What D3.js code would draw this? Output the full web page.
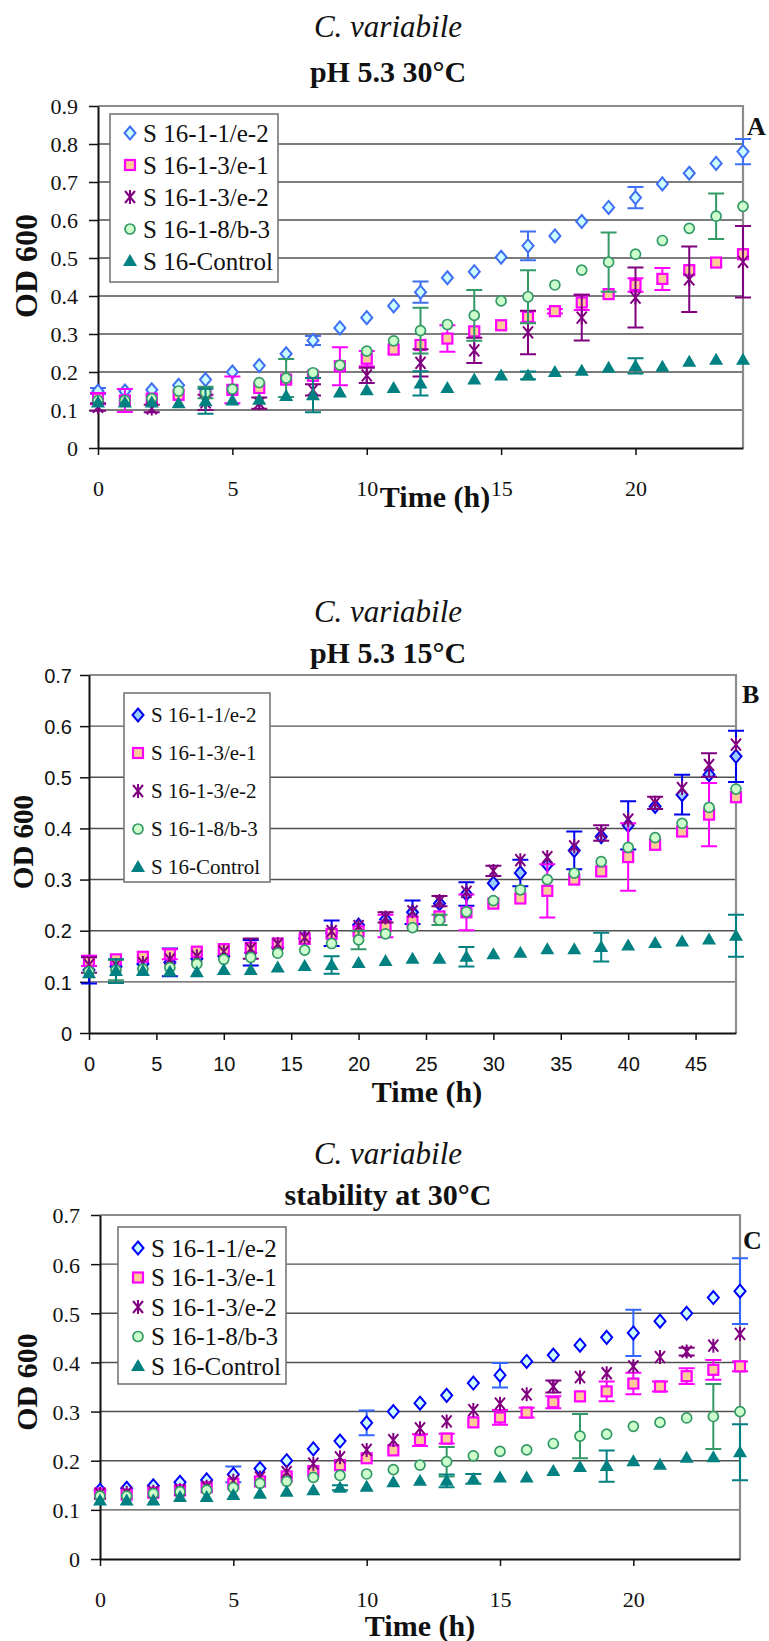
<!DOCTYPE html>
<html>
<head>
<meta charset="utf-8">
<script src="https://cdn.jsdelivr.net/npm/d3@7/dist/d3.min.js"></script>
<style>
  body { margin: 0; background: #fff; }
  svg { display: block; }
</style>
</head>
<body>
<svg id="chart" width="769" height="1641"></svg>
<script>
// ---------- data ----------
const seriesNames = ["S 16-1-1/e-2", "S 16-1-3/e-1", "S 16-1-3/e-2", "S 16-1-8/b-3", "S 16-Control"];

// Panel A: pH 5.3, 30 °C (hourly; S 16-1-3/e-2 every 2 h)
const timeA = [0,1,2,3,4,5,6,7,8,9,10,11,12,13,14,15,16,17,18,19,20,21,22,23,24];
const timeA2 = [0,2,4,6,8,10,12,14,16,18,20,22,24];
const odA_e2 = [0.15,0.15,0.153,0.165,0.18,0.20,0.217,0.248,0.283,0.316,0.343,0.374,0.41,0.448,0.464,0.502,0.532,0.558,0.596,0.633,0.659,0.695,0.723,0.749,0.78];
const sdA_e2 = [0.008,null,null,null,null,null,null,null,0.012,null,null,null,0.028,null,null,null,0.038,null,null,null,0.028,null,null,null,0.033];
const odA_e1 = [0.13,0.125,0.13,0.14,0.145,0.153,0.158,0.18,0.19,0.215,0.235,0.259,0.271,0.288,0.307,0.323,0.345,0.36,0.383,0.405,0.429,0.445,0.468,0.488,0.51];
const sdA_e1 = [0.015,0.03,null,null,null,0.035,null,null,null,0.05,0.02,null,null,0.035,null,null,0.015,0.006,0.02,null,0.018,0.029,null,null,null];
const odA_e2b = [0.108,0.104,0.12,0.118,0.153,0.191,0.224,0.257,0.304,0.343,0.396,0.444,0.49];
const sdA_e2b = [0.01,0.01,0.02,0.015,0.015,0.02,0.036,0.033,0.057,0.06,0.079,0.086,0.094];
const odA_b3 = [0.125,0.125,0.13,0.15,0.146,0.155,0.172,0.184,0.198,0.218,0.255,0.282,0.309,0.325,0.349,0.387,0.398,0.429,0.468,0.489,0.51,0.546,0.578,0.61,0.636];
const sdA_b3 = [null,null,null,null,0.015,null,null,0.05,null,null,null,null,0.06,null,0.067,null,0.07,null,null,0.078,null,null,null,0.06,null];
const odA_ctl = [0.12,0.12,0.12,0.118,0.123,0.125,0.127,0.137,0.139,0.146,0.152,0.158,0.17,0.158,0.18,0.191,0.191,0.2,0.203,0.211,0.216,0.214,0.227,0.232,0.232];
const sdA_ctl = [null,null,null,null,0.033,null,null,null,0.045,null,null,null,0.032,null,null,null,0.01,null,null,null,0.02,null,null,null,null];

// Panel B: pH 5.3, 15 °C (every 2 h)
const timeB = [0,2,4,6,8,10,12,14,16,18,20,22,24,26,28,30,32,34,36,38,40,42,44,46,48];
const odB_e2 = [0.123,0.13,0.135,0.138,0.145,0.15,0.157,0.167,0.185,0.195,0.211,0.222,0.236,0.253,0.272,0.293,0.313,0.329,0.357,0.384,0.406,0.443,0.466,0.505,0.541];
const sdB_e2 = [0.026,null,null,0.027,null,null,0.025,null,null,0.025,null,null,0.023,null,0.023,null,0.026,null,0.037,null,0.047,null,0.039,null,0.05];
const odB_e1 = [0.141,0.144,0.149,0.154,0.159,0.164,0.167,0.175,0.184,0.194,0.199,0.209,0.218,0.228,0.236,0.253,0.263,0.278,0.30,0.316,0.344,0.368,0.394,0.427,0.461];
const sdB_e1 = [0.01,null,null,0.01,null,null,null,null,null,null,null,0.022,null,null,0.035,null,null,0.052,null,null,0.066,null,null,0.062,null];
const odB_e2b = [0.133,0.133,0.137,0.144,0.15,0.159,0.165,0.174,0.187,0.199,0.209,0.226,0.238,0.258,0.276,0.317,0.338,0.344,0.365,0.391,0.417,0.45,0.479,0.524,0.564];
const sdB_e2b = [0.015,null,null,null,null,null,0.02,null,null,null,null,0.01,null,0.01,null,0.01,null,null,null,0.015,null,0.012,null,0.023,null];
const odB_b3 = [0.12,0.123,0.125,0.128,0.135,0.144,0.148,0.156,0.162,0.175,0.182,0.194,0.206,0.221,0.237,0.259,0.28,0.30,0.3125,0.335,0.363,0.382,0.41,0.441,0.477];
const sdB_b3 = [null,0.02,null,null,null,null,null,null,null,null,0.018,null,null,0.01,null,null,null,null,null,null,null,null,null,null,null];
const odB_ctl = [0.117,0.121,0.121,0.12,0.119,0.123,0.123,0.128,0.131,0.133,0.137,0.141,0.145,0.145,0.149,0.154,0.157,0.164,0.164,0.168,0.171,0.176,0.179,0.183,0.19];
const sdB_ctl = [null,0.023,null,null,null,null,null,null,null,0.017,null,null,null,null,0.019,null,null,null,null,0.028,null,null,null,null,0.041];

// Panel C: stability at 30 °C (hourly)
const timeC = [0,1,2,3,4,5,6,7,8,9,10,11,12,13,14,15,16,17,18,19,20,21,22,23,24];
const odC_e2 = [0.14,0.144,0.149,0.156,0.161,0.172,0.184,0.2,0.224,0.24,0.277,0.3,0.317,0.333,0.358,0.374,0.402,0.415,0.435,0.451,0.46,0.484,0.5,0.532,0.545];
const sdC_e2 = [null,null,null,null,null,0.016,null,null,null,null,0.025,null,null,null,null,0.025,null,null,null,null,0.047,null,null,null,0.067];
const odC_e1 = [0.133,0.131,0.135,0.14,0.146,0.153,0.158,0.168,0.179,0.191,0.205,0.221,0.242,0.245,0.278,0.288,0.298,0.319,0.331,0.341,0.357,0.351,0.372,0.385,0.392];
const sdC_e1 = [null,null,null,null,null,null,null,null,null,null,null,null,0.012,0.01,null,0.015,0.01,0.012,null,0.02,0.022,0.01,0.016,0.02,0.01];
const odC_e2b = [0.133,0.135,0.137,0.14,0.147,0.159,0.166,0.177,0.194,0.207,0.222,0.242,0.266,0.28,0.303,0.316,0.335,0.351,0.37,0.378,0.392,0.411,0.422,0.434,0.458];
const sdC_e2b = [null,null,null,null,null,null,null,null,null,null,null,null,null,null,null,null,null,0.012,null,null,null,null,0.008,null,null];
const odC_b3 = [0.128,0.128,0.133,0.137,0.14,0.145,0.154,0.158,0.166,0.17,0.173,0.182,0.191,0.198,0.21,0.219,0.222,0.235,0.25,0.254,0.27,0.278,0.287,0.29,0.30];
const sdC_b3 = [null,null,null,null,null,null,null,null,null,null,null,null,null,0.03,null,null,null,null,0.045,null,null,null,null,0.066,null];
const odC_ctl = [0.119,0.119,0.119,0.126,0.126,0.13,0.133,0.137,0.14,0.145,0.147,0.156,0.159,0.159,0.163,0.166,0.166,0.179,0.187,0.189,0.199,0.192,0.206,0.207,0.217];
const sdC_ctl = [null,null,null,null,null,null,null,null,null,0.005,null,null,null,0.013,0.01,null,null,null,null,0.032,null,null,null,null,0.057];

// axis ticks
const yTicksA = [0,0.1,0.2,0.3,0.4,0.5,0.6,0.7,0.8,0.9];
const yTicks7 = [0,0.1,0.2,0.3,0.4,0.5,0.6,0.7];
const xTicks24 = [0,5,10,15,20];
const xTicks48 = [0,5,10,15,20,25,30,35,40,45];

// ---------- drawing ----------
const svg = d3.select("#chart");
const SERIF = '"Liberation Serif", "DejaVu Serif", serif';
const SANS = '"Liberation Sans", Arial, sans-serif';

function marker(g, kind, cx, cy, st) {
  if (kind === "diamond") {
    const w = 5.5, h = 6.5;
    g.append("path").attr("d", `M${cx},${cy - h}L${cx + w},${cy}L${cx},${cy + h}L${cx - w},${cy}Z`)
      .attr("fill", st.fill).attr("stroke", st.stroke).attr("stroke-width", 2);
  } else if (kind === "square") {
    const a = 5;
    g.append("rect").attr("x", cx - a).attr("y", cy - a).attr("width", 2 * a).attr("height", 2 * a)
      .attr("fill", st.fill).attr("stroke", st.stroke).attr("stroke-width", 2.2);
  } else if (kind === "star") {
    const a = 5, b = 6;
    g.append("path").attr("d", `M${cx - a},${cy - b}L${cx + a},${cy + b}M${cx + a},${cy - b}L${cx - a},${cy + b}M${cx},${cy - b - 1}L${cx},${cy + b + 1}`)
      .attr("fill", "none").attr("stroke", st.stroke).attr("stroke-width", 2);
  } else if (kind === "circle") {
    g.append("circle").attr("cx", cx).attr("cy", cy).attr("r", 5)
      .attr("fill", st.fill).attr("stroke", st.stroke).attr("stroke-width", 1.7);
  } else if (kind === "triangle") {
    g.append("path").attr("d", `M${cx},${cy - 7}L${cx + 7},${cy + 5}L${cx - 7},${cy + 5}Z`)
      .attr("fill", st.fill).attr("stroke", "none");
  }
}

function fmtY(v) { return v === 0 ? "0" : v.toFixed(1); }

function label(g, x, y, txt, font, size, opts = {}) {
  const t = g.append("text").attr("x", x).attr("y", y).text(txt)
    .style("font-family", font).style("font-size", size + "px").attr("fill", "#111");
  if (opts.anchor) t.attr("text-anchor", opts.anchor);
  if (opts.bold) t.style("font-weight", "bold");
  if (opts.italic) t.style("font-style", "italic");
  if (opts.dy) t.attr("dy", opts.dy);
  return t;
}

function drawChart(c) {
  const x = d3.scaleLinear().domain(c.xDomain).range([c.left, c.right]);
  const y = d3.scaleLinear().domain(c.yDomain).range([c.bottom, c.top]);
  const g = svg.append("g");

  // titles
  label(g, 388, c.title1Y, "C. variabile", SERIF, 31, {anchor: "middle", italic: true});
  label(g, 388, c.title2Y, c.title2, SERIF, 30, {anchor: "middle", bold: true});

  // horizontal gridlines
  g.selectAll("line.grid").data(c.yTicks.filter(v => v > 0 && v < c.yDomain[1])).join("line")
    .attr("x1", c.left).attr("x2", c.right)
    .attr("y1", d => y(d)).attr("y2", d => y(d))
    .attr("stroke", "#505050").attr("stroke-width", 1.4);

  // plot-area frame (top and right)
  g.append("path").attr("d", `M${c.left},${y(c.yDomain[1])}H${c.right}V${c.bottom}`)
    .attr("fill", "none").attr("stroke", "#8c8c8c").attr("stroke-width", 2.2);

  // y axis
  const ya = g.append("g").attr("transform", `translate(${c.left},0)`)
    .call(d3.axisLeft(y).tickValues(c.yTicks).tickSize(9).tickSizeOuter(0).tickFormat(fmtY));
  ya.attr("font-family", null).attr("font-size", null);
  ya.select(".domain").attr("stroke", "#111").attr("stroke-width", 2);
  ya.selectAll(".tick line").attr("stroke", "#111").attr("stroke-width", 1.5);
  ya.selectAll(".tick text").attr("x", -(c.left - c.yLabelRight)).attr("dy", "0.36em")
    .style("font-family", c.tickFont).style("font-size", c.tickSize + "px").attr("fill", "#111");

  // x axis
  const xa = g.append("g").attr("transform", `translate(0,${c.bottom})`)
    .call(d3.axisBottom(x).tickValues(c.xTicks).tickSize(7).tickSizeOuter(0));
  xa.attr("font-family", null).attr("font-size", null);
  xa.select(".domain").attr("stroke", "#111").attr("stroke-width", 2);
  xa.selectAll(".tick line").attr("stroke", "#111").attr("stroke-width", 1.5);
  xa.selectAll(".tick text").attr("y", c.xLabelBase - c.bottom).attr("dy", 0)
    .style("font-family", c.tickFont).style("font-size", c.tickSize + "px").attr("fill", "#111");

  // axis titles
  label(g, c.timeX, c.timeY, "Time (h)", SERIF, c.timeSize, {anchor: "middle", bold: true});
  label(g, 0, 0, "OD 600", SERIF, c.odSize, {anchor: "middle", bold: true, dy: "0.35em"})
    .attr("transform", `translate(${c.odX},${c.odY}) rotate(-90)`);

  // panel letter
  label(g, c.tagX, c.tagY, c.tag, SERIF, 26, {bold: true});

  // series: error bars, then markers
  c.series.forEach(s => {
    const sg = g.append("g");
    s.t.forEach((t, i) => {
      const e = s.sd[i];
      if (e == null) return;
      const cx = x(t), y1 = y(s.v[i] - e), y2 = y(s.v[i] + e);
      sg.append("path").attr("d", `M${cx},${y1}V${y2}M${cx - 8},${y1}H${cx + 8}M${cx - 8},${y2}H${cx + 8}`)
        .attr("fill", "none").attr("stroke", s.st.err).attr("stroke-width", 2);
    });
    s.t.forEach((t, i) => marker(sg, s.st.kind, x(t), y(s.v[i]), s.st));
  });

  // legend
  const L = c.legend;
  const lg = g.append("g");
  lg.append("rect").attr("x", L.x).attr("y", L.y).attr("width", L.w).attr("height", L.h)
    .attr("fill", "#fff").attr("stroke", "#777").attr("stroke-width", 1.6);
  c.series.forEach((s, i) => {
    const ly = L.firstY + i * L.step;
    marker(lg, s.st.kind, L.x + L.symDx, ly, s.st);
    label(lg, L.x + L.textDx, ly, s.name, SERIF, L.size, {dy: "0.35em"});
  });
}

function styleSet(diamondStroke, diamondFill, diamondErr) {
  return [
    {kind: "diamond", stroke: diamondStroke, fill: diamondFill, err: diamondErr},
    {kind: "square", stroke: "#ff00ff", fill: "#ffcc99", err: "#ff00ff"},
    {kind: "star", stroke: "#800080", err: "#800080"},
    {kind: "circle", stroke: "#339966", fill: "#ccffcc", err: "#339966"},
    {kind: "triangle", fill: "#008080", err: "#008080"}
  ];
}

function makeSeries(times, values, sds, styles) {
  return seriesNames.map((name, i) => ({name, t: times[i], v: values[i], sd: sds[i], st: styles[i]}));
}

drawChart({
  title2: "pH 5.3 30°C", title1Y: 37, title2Y: 82,
  left: 98, right: 743, top: 106, bottom: 448,
  xDomain: [0, 24], yDomain: [0, 0.9], xTicks: xTicks24, yTicks: yTicksA,
  tickFont: SERIF, tickSize: 22, yLabelRight: 78, xLabelBase: 496,
  timeX: 435, timeY: 507, timeSize: 30, odX: 26, odY: 266, odSize: 32,
  tag: "A", tagX: 747, tagY: 135,
  legend: {x: 110, y: 114, w: 168, h: 168, firstY: 133, step: 32, symDx: 20, textDx: 33, size: 25},
  series: makeSeries([timeA, timeA, timeA2, timeA, timeA],
    [odA_e2, odA_e1, odA_e2b, odA_b3, odA_ctl],
    [sdA_e2, sdA_e1, sdA_e2b, sdA_b3, sdA_ctl],
    styleSet("#3f6ff2", "#ccffff", "#3f6ff2"))
});

drawChart({
  title2: "pH 5.3 15°C", title1Y: 622, title2Y: 663,
  left: 89, right: 736, top: 675, bottom: 1033,
  xDomain: [0, 48], yDomain: [0, 0.7], xTicks: xTicks48, yTicks: yTicks7,
  tickFont: SANS, tickSize: 20, yLabelRight: 72, xLabelBase: 1071,
  timeX: 427, timeY: 1102, timeSize: 30, odX: 23, odY: 842, odSize: 29,
  tag: "B", tagX: 742, tagY: 703,
  legend: {x: 124, y: 693, w: 146, h: 189, firstY: 715, step: 38, symDx: 14, textDx: 27, size: 21},
  series: makeSeries([timeB, timeB, timeB, timeB, timeB],
    [odB_e2, odB_e1, odB_e2b, odB_b3, odB_ctl],
    [sdB_e2, sdB_e1, sdB_e2b, sdB_b3, sdB_ctl],
    styleSet("#0000ee", "#99ccff", "#0000ee"))
});

drawChart({
  title2: "stability at 30°C", title1Y: 1164, title2Y: 1205,
  left: 100, right: 740, top: 1215, bottom: 1559,
  xDomain: [0, 24], yDomain: [0, 0.7], xTicks: xTicks24, yTicks: yTicks7,
  tickFont: SERIF, tickSize: 22, yLabelRight: 80, xLabelBase: 1607,
  timeX: 420, timeY: 1636, timeSize: 30, odX: 26, odY: 1382, odSize: 30,
  tag: "C", tagX: 743, tagY: 1249,
  legend: {x: 118, y: 1227, w: 168, h: 157, firstY: 1248, step: 29.5, symDx: 20, textDx: 33, size: 25},
  series: makeSeries([timeC, timeC, timeC, timeC, timeC],
    [odC_e2, odC_e1, odC_e2b, odC_b3, odC_ctl],
    [sdC_e2, sdC_e1, sdC_e2b, sdC_b3, sdC_ctl],
    styleSet("#0000ff", "#ccffff", "#3366ff"))
});
</script>
</body>
</html>
